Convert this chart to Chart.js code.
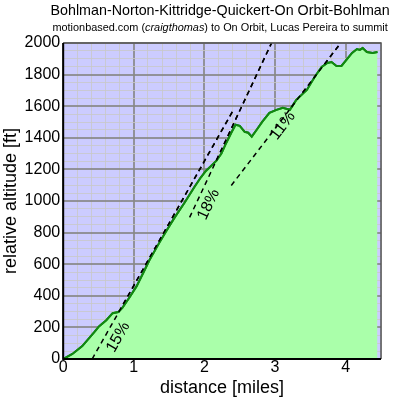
<!DOCTYPE html>
<html>
<head>
<meta charset="utf-8">
<script src="https://cdn.jsdelivr.net/npm/chart.js@4"></script>
<style>
html, body { margin: 0; padding: 0; background: #fff; }
#wrap { width: 394px; height: 400px; }
</style>
</head>
<body>
<div id="wrap"><canvas id="chartPerfil"></canvas></div>
<script>
// perfil de la ruta
const distMiles = [0, 0.13, 0.27, 0.44, 0.51, 0.61, 0.70, 0.78, 0.84, 0.94, 1.04, 1.15, 1.22, 1.36, 1.46, 1.57, 1.72, 1.86, 1.95, 2.02, 2.09, 2.17, 2.24, 2.31, 2.38, 2.44, 2.50, 2.57, 2.62, 2.67, 2.74, 2.82, 2.92, 3.02, 3.11, 3.21, 3.30, 3.45, 3.56, 3.66, 3.74, 3.80, 3.87, 3.94, 4.01, 4.09, 4.16, 4.20, 4.24, 4.30, 4.38, 4.45]
const altitudeFt = [0, 32, 82, 170, 208, 245, 290, 297, 325, 391, 461, 560, 625, 735, 810, 890, 990, 1090, 1150, 1190, 1220, 1255, 1300, 1369, 1432, 1483, 1476, 1438, 1432, 1407, 1451, 1502, 1558, 1577, 1590, 1577, 1640, 1703, 1785, 1849, 1874, 1880, 1855, 1855, 1893, 1937, 1962, 1956, 1968, 1943, 1937, 1943]

// lineas de pendiente
const gradeLabels = ['15%', '18%', '11%']
const gradeFrom = [[0.41, 0], [1.79, 896], [2.38, 1098]]
const gradeTo = [[2.42, 1584], [2.95, 2000], [3.93, 2000]]
const gradeTextAt = [[0.78, 139], [2.06, 978], [3.11, 1476]]

const xTickLabels = [0, 1, 2, 3, 4]
const yTickLabels = [0, 200, 400, 600, 800, 1000, 1200, 1400, 1600, 1800, 2000]

const titulo = 'Bohlman-Norton-Kittridge-Quickert-On Orbit-Bohlman'
const subtitulo = [['motionbased.com (', false], ['craigthomas', true], [') to On Orbit, Lucas Pereira to summit', false]]

const FAMILIA = "'Liberation Sans', Arial, sans-serif"
Chart.defaults.font.family = FAMILIA
Chart.defaults.color = '#000'

const esEntero = (v) => Math.abs(v - Math.round(v)) < 1e-6
const MAYOR = 'rgba(135,135,135,0.85)'
const MENOR = 'rgba(200,200,200,0.8)'

const fondo = {
    id: 'fondo',
    beforeDraw(chart) {
        const { ctx, chartArea: a } = chart
        ctx.save()
        ctx.fillStyle = '#ccccff'
        ctx.fillRect(a.left, a.top, a.right - a.left, a.bottom - a.top)
        ctx.restore()
    },
    afterDraw(chart) {
        const { ctx, chartArea: a, scales: { x, y } } = chart

        // volver a trazar las lineas encima de la reticula
        ctx.save()
        ctx.beginPath()
        ctx.rect(a.left, a.top, a.right - a.left, a.bottom - a.top)
        ctx.clip()
        chart.data.datasets.forEach((ds, i) => {
            chart.getDatasetMeta(i).controller.draw()
        })
        ctx.restore()

        // marco
        ctx.save()
        ctx.strokeStyle = '#555'
        ctx.lineWidth = 1.5
        ctx.beginPath()
        ctx.moveTo(a.left, a.top)
        ctx.lineTo(a.right, a.top)
        ctx.lineTo(a.right, a.bottom)
        ctx.stroke()
        ctx.strokeStyle = '#000'
        ctx.lineWidth = 2
        ctx.beginPath()
        ctx.moveTo(a.left, a.top)
        ctx.lineTo(a.left, a.bottom)
        ctx.lineTo(a.right, a.bottom)
        ctx.stroke()
        ctx.restore()

        // etiquetas de pendiente
        ctx.save()
        ctx.fillStyle = '#000'
        ctx.font = '16px ' + FAMILIA
        ctx.textAlign = 'center'
        ctx.textBaseline = 'middle'
        gradeLabels.forEach((txt, i) => {
            const x0 = x.getPixelForValue(gradeFrom[i][0])
            const y0 = y.getPixelForValue(gradeFrom[i][1])
            const x1 = x.getPixelForValue(gradeTo[i][0])
            const y1 = y.getPixelForValue(gradeTo[i][1])
            const ang = Math.atan2(y1 - y0, x1 - x0)
            ctx.save()
            ctx.translate(x.getPixelForValue(gradeTextAt[i][0]), y.getPixelForValue(gradeTextAt[i][1]))
            ctx.rotate(ang)
            ctx.fillText(txt, 0, 0)
            ctx.restore()
        })
        ctx.restore()

        // titulo y subtitulo (con la parte en cursiva)
        const centro = (a.left + a.right) / 2 - 2
        ctx.save()
        ctx.fillStyle = '#000'
        ctx.textBaseline = 'middle'
        ctx.textAlign = 'center'
        ctx.font = '14.3px ' + FAMILIA
        ctx.fillText(titulo, centro, 11.5)
        ctx.textAlign = 'left'
        const fuente = (it) => (it ? 'italic ' : '') + '10.9px ' + FAMILIA
        let total = 0
        subtitulo.forEach(([t, it]) => { ctx.font = fuente(it); total += ctx.measureText(t).width })
        let cx = centro - total / 2
        subtitulo.forEach(([t, it]) => {
            ctx.font = fuente(it)
            ctx.fillText(t, cx, 28)
            cx += ctx.measureText(t).width
        })
        ctx.restore()
    }
}

const datasets = [
    {
        label: 'altitud',
        data: distMiles.map((d, i) => ({ x: d, y: altitudeFt[i] })),
        borderColor: '#118811',
        borderWidth: 2,
        backgroundColor: '#aaffaa',
        fill: 'origin',
        pointRadius: 0,
        tension: 0
    }
]
gradeLabels.forEach((g, i) => {
    datasets.push({
        label: g,
        data: [{ x: gradeFrom[i][0], y: gradeFrom[i][1] }, { x: gradeTo[i][0], y: gradeTo[i][1] }],
        borderColor: '#000',
        borderWidth: 1.5,
        borderDash: [5, 4],
        fill: false,
        pointRadius: 0
    })
})

const canvas = document.getElementById('chartPerfil')
const chartPerfil = new Chart(canvas.getContext('2d'), {
    type: 'line',
    data: { datasets },
    options: {
        responsive: true,
        maintainAspectRatio: false,
        devicePixelRatio: 1,
        animation: false,
        layout: { padding: { left: 0, right: 13, top: 43, bottom: 1.4 } },
        plugins: {
            legend: { display: false },
            tooltip: { enabled: false },
            title: { display: false }
        },
        scales: {
            x: {
                type: 'linear',
                min: 0,
                max: 4.5,
                z: 1,
                border: { display: false },
                grid: {
                    drawTicks: false,
                    color: (c) => esEntero(c.tick.value) ? MAYOR : MENOR,
                    lineWidth: (c) => esEntero(c.tick.value) ? 2 : 1
                },
                ticks: {
                    stepSize: 0.2,
                    autoSkip: false,
                    maxRotation: 0,
                    padding: 1,
                    font: { size: 16, lineHeight: 1 },
                    callback: (v) => xTickLabels.some(t => Math.abs(t - v) < 1e-6) ? String(Math.round(v)) : ''
                },
                title: {
                    display: true,
                    text: 'distance [miles]',
                    font: { size: 18 },
                    padding: { top: 0, bottom: 0 }
                }
            },
            y: {
                min: 0,
                max: 2000,
                z: 1,
                border: { display: false },
                grid: {
                    drawTicks: false,
                    color: (c) => c.tick.value % 200 === 0 ? MAYOR : MENOR,
                    lineWidth: (c) => c.tick.value % 200 === 0 ? 2 : 1
                },
                ticks: {
                    stepSize: 50,
                    autoSkip: false,
                    padding: 3,
                    font: { size: 16 },
                    callback: (v) => yTickLabels.includes(v) ? String(v) : ''
                },
                title: {
                    display: true,
                    text: 'relative altitude [ft]',
                    font: { size: 18 },
                    padding: { top: 0, bottom: 0 }
                }
            }
        }
    },
    plugins: [fondo]
})
</script>
</body>
</html>
